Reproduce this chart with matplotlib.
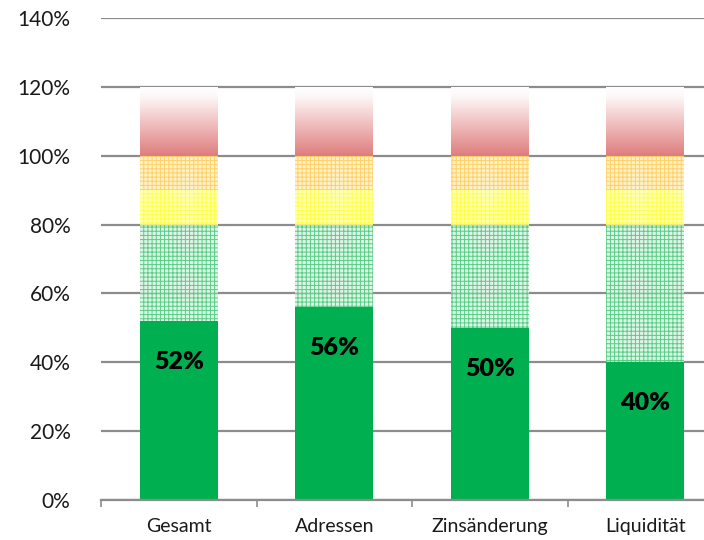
import numpy as np
import matplotlib
matplotlib.use('Agg')
import matplotlib.pyplot as plt
from matplotlib.colors import LinearSegmentedColormap

plt.rcParams['font.family'] = ['Lato', 'DejaVu Sans']
plt.rcParams['hatch.linewidth'] = 0.7

categories = ['Gesamt', 'Adressen', 'Zinsänderung', 'Liquidität']
values = [52, 56, 50, 40]

# traffic-light bands behind the bars: (bottom, top)
band_green = (0, 80)
band_yellow = (80, 90)
band_orange = (90, 100)
band_red = (100, 120)

yticks = [0, 20, 40, 60, 80, 100, 120, 140]

fig = plt.figure(figsize=(7.04, 5.4), dpi=100)
ax = fig.add_axes([101 / 704, 40 / 540, 622 / 704, 482 / 540])

x = np.arange(len(categories))
width = 0.5

ax.grid(axis='y', color='#8c8c8c', linewidth=1.6)
ax.set_axisbelow(True)


def hatched_band(band, face, edge):
    lo, hi = band
    ax.bar(x, [hi - lo] * len(x), width, bottom=lo, facecolor=face,
           edgecolor=edge, hatch='++++', linewidth=0, alpha=0.8, zorder=2)


hatched_band(band_green, '#d8f2e0', '#36c46f')
hatched_band(band_yellow, '#ffffa8', '#ffff30')
hatched_band(band_orange, '#ffeebb', '#ffc850')

# red band fades from red to white
red_cmap = LinearSegmentedColormap.from_list(
    'redfade', [(0, '#df7c7c'), (0.85, '#fdf6f6'), (1, '#ffffff')])
grad = np.linspace(0, 1, 256).reshape(-1, 1)
lo, hi = band_red
red_bars = ax.bar(x, [hi - lo] * len(x), width, bottom=lo, color='none',
                  linewidth=0, zorder=2)
for rect in red_bars:
    im = ax.imshow(grad, cmap=red_cmap, origin='lower', aspect='auto',
                   extent=(rect.get_x(), rect.get_x() + rect.get_width(),
                           lo, hi), zorder=2)
    im.set_clip_path(rect)

bars = ax.bar(x, values, width, color='#00b050', linewidth=0, zorder=3)
for rect, v in zip(bars, values):
    ax.annotate(f'{v}%', (rect.get_x() + rect.get_width() / 2, v),
                xytext=(0, -41), textcoords='offset pixels',
                ha='center', va='center', fontsize=18, fontweight='heavy',
                color='black', zorder=4)

ax.set_xlim(-0.5, len(categories) - 0.5)
ax.set_ylim(0, 140)
ax.set_yticks(yticks)
ax.set_yticklabels([f'{t}%' for t in yticks])
ax.set_xticks(x)
ax.set_xticklabels(categories)
ax.set_xticks(np.arange(len(categories) + 1) - 0.5, minor=True)

ax.tick_params(axis='y', length=0, pad=22, labelsize=15, labelcolor='#1a1a1a')
ax.tick_params(axis='x', which='major', length=0, pad=13, labelsize=14,
               labelcolor='#1a1a1a')
ax.tick_params(axis='x', which='minor', length=5, width=1.2, color='#8c8c8c')

for side in ['top', 'right', 'left']:
    ax.spines[side].set_visible(False)
ax.spines['bottom'].set_color('#8c8c8c')
ax.spines['bottom'].set_linewidth(1.6)
ax.spines['bottom'].set_zorder(5)

fig.savefig('out.png', dpi=100)
